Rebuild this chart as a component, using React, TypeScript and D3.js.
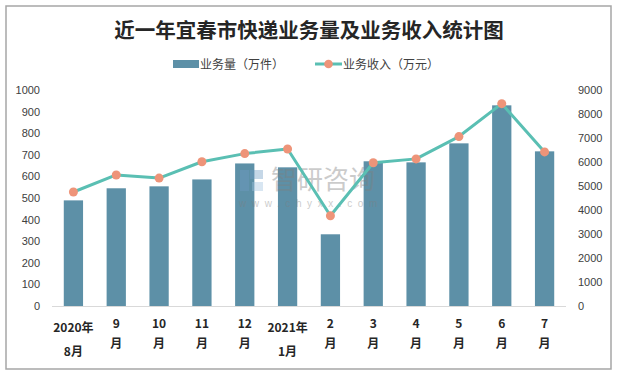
import React from "react";
import * as d3 from "d3";

const categories = ["2020年\n8月", "9\n月", "10\n月", "11\n月", "12\n月", "2021年\n1月", "2\n月", "3\n月", "4\n月", "5\n月", "6\n月", "7\n月"];
const volume = [489, 545, 554, 586, 660, 642, 332, 670, 665, 753, 929, 716];
const revenue = [4750, 5460, 5330, 6010, 6350, 6540, 3760, 5970, 6130, 7060, 8430, 6420];
const leftTicks = [0, 100, 200, 300, 400, 500, 600, 700, 800, 900, 1000];
const rightTicks = [0, 1000, 2000, 3000, 4000, 5000, 6000, 7000, 8000, 9000];

const W = 617, H = 376;
const plot = { left: 52, right: 566, top: 90, bottom: 306 };
const barColor = "#5d90a7";
const lineColor = "#5abfb3";
const dotColor = "#ee9479";
const textColor = "#404040";
const cjk = "'Noto Sans CJK SC', 'Noto Sans', sans-serif";
const numFont = "'Liberation Sans', 'Noto Sans', Arial, sans-serif";

export default function App() {
  const x = d3.scaleBand<number>()
    .domain(d3.range(categories.length))
    .range([plot.left, plot.right])
    .paddingInner(0.55)
    .paddingOuter(0.275);
  const yL = d3.scaleLinear().domain([0, 1000]).range([plot.bottom, plot.top]);
  const yR = d3.scaleLinear().domain([0, 9000]).range([plot.bottom, plot.top]);
  const cx = (i: number) => (x(i) as number) + x.bandwidth() / 2;
  const line = d3.line<number>().x((_, i) => cx(i)).y((d) => yR(d));

  return (
    <svg width={W} height={H} style={{ position: "absolute", left: 0, top: 0 }}>
      <rect x={0} y={0} width={W} height={H} fill="#fff" />
      <rect x={6} y={6} width={605} height={363} fill="none" stroke="#a6a6a6" strokeWidth={1.5} />
      <text x={309} y={38} textAnchor="middle" fontFamily={cjk} fontWeight={700} fontSize={20.5} fill="#262626">
        近一年宜春市快递业务量及业务收入统计图
      </text>
      {/* legend */}
      <rect x={173} y={60} width={26} height={8} fill={barColor} />
      <text x={200} y={68.5} fontFamily={cjk} fontSize={12} fill={textColor}>业务量（万件）</text>
      <line x1={315} x2={342} y1={64} y2={64} stroke={lineColor} strokeWidth={3} />
      <circle cx={328.5} cy={64} r={4.3} fill={dotColor} />
      <text x={343} y={68.5} fontFamily={cjk} fontSize={12} fill={textColor}>业务收入（万元）</text>

      {/* axis baseline */}
      <line x1={plot.left} x2={plot.right} y1={plot.bottom + 0.5} y2={plot.bottom + 0.5} stroke="#d9d9d9" strokeWidth={1} />

      {/* bars */}
      {volume.map((v, i) => (
        <rect key={i} x={x(i)} y={yL(v)} width={x.bandwidth()} height={plot.bottom - yL(v)} fill={barColor} />
      ))}

      {/* watermark */}
      <g opacity={0.4}>
        <rect x={240} y={170} width={9} height={21} fill="#6f9cc4" />
        <rect x={250} y={170} width={13} height={9} fill="#6f9cc4" />
        <rect x={252} y={182} width={11} height={9} fill="#9fc3e0" />
        <text x={271} y={189} fontFamily={cjk} fontSize={26} fill="#7f7f7f">智研咨询</text>
        <text x={239} y={207} fontFamily={numFont} fontSize={10} letterSpacing={5.6} fill="#7f7f7f">www.chyxx.com</text>
      </g>

      {/* line */}
      <path d={line(revenue) || ""} fill="none" stroke={lineColor} strokeWidth={3} strokeLinejoin="round" />
      {revenue.map((v, i) => (
        <circle key={i} cx={cx(i)} cy={yR(v)} r={4.5} fill={dotColor} />
      ))}

      {/* left ticks */}
      {leftTicks.map((t) => (
        <text key={t} x={40} y={yL(t) + 4} textAnchor="end" fontFamily={numFont} fontSize={11} fill={textColor}>{t}</text>
      ))}
      {/* right ticks */}
      {rightTicks.map((t) => (
        <text key={t} x={578} y={yR(t) + 4} textAnchor="start" fontFamily={numFont} fontSize={11} fill={textColor}>{t}</text>
      ))}

      {/* category labels */}
      {categories.map((c, i) => {
        const [a, b] = c.split("\n");
        const wide = a.length > 2;
        return (
          <text key={i} textAnchor="middle" fontFamily={cjk} fontWeight={700} fontSize={12} fill="#262626">
            <tspan x={cx(i)} y={wide ? 332 : 328}>{a}</tspan>
            <tspan x={cx(i)} y={wide ? 356 : 348}>{b}</tspan>
          </text>
        );
      })}
    </svg>
  );
}
